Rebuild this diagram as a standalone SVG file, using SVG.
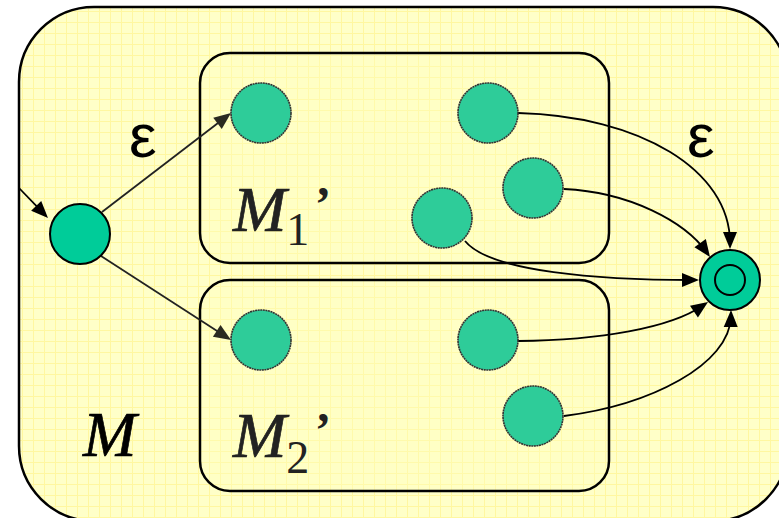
<svg xmlns="http://www.w3.org/2000/svg" width="779" height="518" viewBox="0 0 779 518">
  <defs>
    <pattern id="grid" width="11" height="11" patternUnits="userSpaceOnUse">
      <rect width="11" height="11" fill="#FFFFC8"/>
      <path d="M0,0.5 H11 M0.5,0 V11" stroke="#FFF7A0" stroke-width="1"/>
    </pattern>
    <!-- arrowhead with its tip at the origin, pointing along +x -->
    <path id="ah" d="M0,0 L-17,-7 L-17,7 z"/>
  </defs>
  <style>
    .box { fill: url(#grid); stroke: #000; stroke-width: 2.5; }
    .inner { fill: #FFFFC0; fill-opacity: 0.35; stroke: #000; stroke-width: 2.5; }
    .state { fill: #2ECC99; stroke: #333; stroke-width: 1.6; stroke-dasharray: 2 0.6; }
    .solid { fill: #00CC99; stroke: #000; stroke-width: 2; }
    .edge { fill: none; stroke: #000; stroke-width: 1.8; }
    .edge2 { fill: none; stroke: #222; stroke-width: 1.8; }
    .head { fill: #000; }
    .head2 { fill: #2a2a20; }
    .eps { font-family: "Liberation Sans", Arial, sans-serif; font-size: 62px; fill: #000; }
    .lbl { font-family: "Liberation Serif", "Times New Roman", serif; font-style: italic; font-size: 64px; fill: #000; stroke: #000; stroke-width: 0.7; }
    .lbl2 { font-family: "Liberation Serif", "Times New Roman", serif; font-size: 64px; fill: #222; }
    .mark { font-family: "Liberation Serif", "Times New Roman", serif; font-weight: bold; font-size: 48px; fill: #222; }
  </style>

  <!-- outer machine M -->
  <g id="M">
    <rect class="box" x="19" y="7" width="769" height="514" rx="75" ry="75"/>
    <text class="lbl" x="83" y="456">M</text>
  </g>

  <!-- sub-machine M1' -->
  <g id="M1">
    <rect class="inner" x="200" y="53" width="409" height="210" rx="30" ry="30"/>
    <text class="lbl2" x="233" y="231"><tspan font-style="italic" stroke="#222" stroke-width="0.7">M</tspan><tspan font-size="46" dy="14">1</tspan></text>
    <text class="mark" x="315" y="220">’</text>
  </g>

  <!-- sub-machine M2' -->
  <g id="M2">
    <rect class="inner" x="200" y="280" width="409" height="211" rx="30" ry="30"/>
    <text class="lbl2" x="233" y="457"><tspan font-style="italic" stroke="#222" stroke-width="0.7">M</tspan><tspan font-size="46" dy="16">2</tspan></text>
    <text class="mark" x="315" y="446">’</text>
  </g>

  <!-- connectors -->
  <g id="edges">
    <line class="edge" x1="19" y1="188" x2="43.8" y2="213.7"/>
    <use href="#ah" class="head" transform="translate(48,218) rotate(46)"/>

    <line class="edge2" x1="102" y1="212" x2="226.2" y2="116.7"/>
    <use href="#ah" class="head2" transform="translate(231,113) rotate(-37.5)"/>

    <line class="edge2" x1="101" y1="256" x2="226" y2="336.7"/>
    <use href="#ah" class="head2" transform="translate(231,340) rotate(32.9)"/>

    <path class="edge" d="M518,113 C640,116 730,170 730,243"/>
    <use href="#ah" class="head" transform="translate(730,249) rotate(90)"/>

    <path class="edge" d="M564,189 C630,192 685,222 706.5,252"/>
    <use href="#ah" class="head" transform="translate(710,257) rotate(54.5)"/>

    <path class="edge" d="M465,241 C490,272 600,280 693,280"/>
    <use href="#ah" class="head" transform="translate(699,280) rotate(0)"/>

    <path class="edge" d="M518,341 C600,340 670,328 703,305.4"/>
    <use href="#ah" class="head" transform="translate(708,302) rotate(-34.4)"/>

    <path class="edge" d="M564,416 C650,405 730,365 731,316"/>
    <use href="#ah" class="head" transform="translate(731,310) rotate(-89)"/>

    <text class="eps" x="129" y="157">ε</text>
    <text class="eps" x="687" y="157">ε</text>
  </g>

  <!-- states -->
  <g id="start"><circle class="solid" cx="80" cy="234" r="30"/></g>
  <g id="m1a"><circle class="state" cx="261" cy="113" r="30"/></g>
  <g id="m1b"><circle class="state" cx="488" cy="113" r="30"/></g>
  <g id="m1c"><circle class="state" cx="533" cy="188" r="30"/></g>
  <g id="m1d"><circle class="state" cx="442" cy="218" r="30"/></g>
  <g id="m2a"><circle class="state" cx="261" cy="340" r="30"/></g>
  <g id="m2b"><circle class="state" cx="488" cy="340" r="30"/></g>
  <g id="m2c"><circle class="state" cx="533" cy="416" r="30"/></g>
  <g id="final">
    <circle class="solid" cx="730" cy="280" r="30"/>
    <circle cx="730" cy="280" r="15" fill="none" stroke="#000" stroke-width="2"/>
  </g>
</svg>
